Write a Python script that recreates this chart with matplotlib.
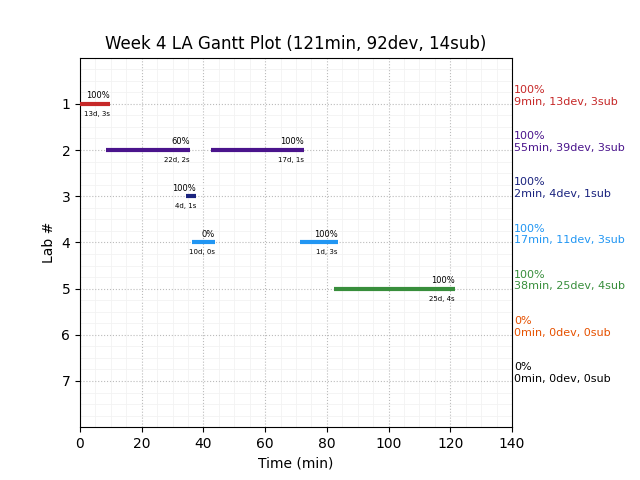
import matplotlib
matplotlib.use("Agg")
import matplotlib.pyplot as plt
import matplotlib.transforms as mtransforms
from matplotlib.ticker import AutoMinorLocator, MultipleLocator

# lab rows and their colours
labs = [1, 2, 3, 4, 5, 6, 7]
colors = ["#c62828", "#4a148c", "#1a237e", "#2196f3", "#388e3c", "#e65100", "#000000"]

# segments per lab: start, end (min)
seg_lab = [1, 2, 2, 3, 4, 4, 5]
seg_start = [0.0, 8.4, 42.4, 34.3, 36.3, 71.3, 82.3]
seg_end = [9.6, 35.6, 72.6, 37.6, 43.7, 83.6, 121.5]
seg_pct = ["100%", "60%", "100%", "100%", "0%", "100%", "100%"]
seg_info = ["13d, 3s", "22d, 2s", "17d, 1s", "4d, 1s", "10d, 0s", "1d, 3s", "25d, 4s"]

# right-hand summaries
summary_pct = ["100%", "100%", "100%", "100%", "100%", "0%", "0%"]
summary_txt = ["9min, 13dev, 3sub", "55min, 39dev, 3sub", "2min, 4dev, 1sub",
               "17min, 11dev, 3sub", "38min, 25dev, 4sub", "0min, 0dev, 0sub",
               "0min, 0dev, 0sub"]

fig, ax = plt.subplots(figsize=(6.4, 4.8), dpi=100)
fig.subplots_adjust(left=0.125, right=0.8, top=0.88, bottom=0.11)

for lab, s, e, p, info in zip(seg_lab, seg_start, seg_end, seg_pct, seg_info):
    c = colors[labs.index(lab)]
    ax.hlines(lab, s, e, colors=c, linewidth=3, zorder=3)
    ax.text(e, lab - 0.08, p, ha="right", va="bottom", fontsize=6)
    ax.text(e, lab + 0.15, info, ha="right", va="top", fontsize=5)

trans = mtransforms.blended_transform_factory(ax.transAxes, ax.transData)
for lab, c, p, t in zip(labs, colors, summary_pct, summary_txt):
    ax.text(1.005, lab + 0.06, p + "\n" + t, color=c, fontsize=8,
            ha="left", va="bottom", transform=trans, clip_on=False)

ax.set_xlim(0, 140)
ax.set_ylim(8, 0)
ax.set_yticks(labs)
ax.xaxis.set_major_locator(MultipleLocator(20))
ax.xaxis.set_minor_locator(AutoMinorLocator(4))
ax.yaxis.set_minor_locator(AutoMinorLocator(4))
ax.tick_params(which="minor", length=0)
ax.grid(which="major", linestyle=":", color="#bbbbbb", linewidth=0.8)
ax.grid(which="minor", linestyle="-", color="#f2f2f2", linewidth=0.6)
ax.set_axisbelow(True)

ax.set_title("Week 4 LA Gantt Plot (121min, 92dev, 14sub)")
ax.set_xlabel("Time (min)")
ax.set_ylabel("Lab #")

plt.savefig("out.png", dpi=100)
